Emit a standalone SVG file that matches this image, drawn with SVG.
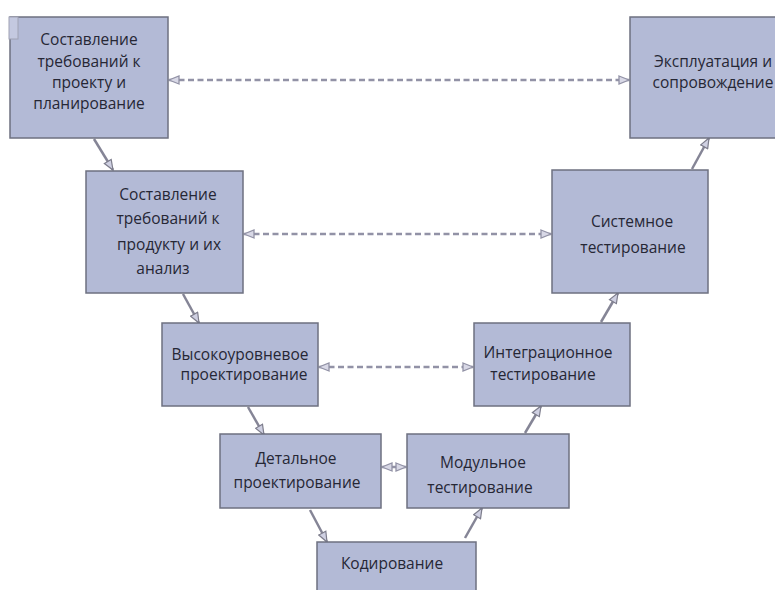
<svg xmlns="http://www.w3.org/2000/svg" width="775" height="590" viewBox="0 0 775 590">
<style>
.box{fill:#b3bad6;stroke:#6e7080;stroke-width:1.5}
.t{font-family:"Open Sans","Liberation Sans",sans-serif;font-size:15.5px;fill:#262735;text-anchor:middle}
.s{fill:none;stroke:#858596;stroke-width:2.5}
.d{fill:none;stroke:#9292a6;stroke-width:2.4;stroke-dasharray:6 3.5}
</style>
<defs>
<marker id="ah" viewBox="0 0 12 10" refX="11" refY="5" markerWidth="12" markerHeight="10" markerUnits="userSpaceOnUse" orient="auto-start-reverse">
<path d="M1,1 L11,5 L1,9 Z" fill="#cfd0e2" stroke="#7d7d8c" stroke-width="1.2"/>
</marker>
<marker id="dh" viewBox="0 0 12 10" refX="11" refY="5" markerWidth="12" markerHeight="10" markerUnits="userSpaceOnUse" orient="auto-start-reverse">
<path d="M1,1 L11,5 L1,9 Z" fill="#d8d8e6" stroke="#9292a6" stroke-width="1.3"/>
</marker>
</defs>
<rect width="775" height="590" fill="#ffffff"/>
<g id="connectors">
<line class="s" x1="94" y1="139" x2="113" y2="170" marker-end="url(#ah)"/>
<line class="s" x1="183" y1="294" x2="199" y2="323" marker-end="url(#ah)"/>
<line class="s" x1="248" y1="407" x2="264" y2="435" marker-end="url(#ah)"/>
<line class="s" x1="310" y1="510" x2="327" y2="542" marker-end="url(#ah)"/>
<line class="s" x1="465" y1="538" x2="482" y2="508" marker-end="url(#ah)"/>
<line class="s" x1="525" y1="433" x2="541" y2="406" marker-end="url(#ah)"/>
<line class="s" x1="601" y1="322" x2="618" y2="293" marker-end="url(#ah)"/>
<line class="s" x1="692" y1="169" x2="709" y2="138" marker-end="url(#ah)"/>
<line class="d" x1="169" y1="80" x2="629" y2="80" marker-start="url(#dh)" marker-end="url(#dh)"/>
<line class="d" x1="244" y1="234" x2="551" y2="234" marker-start="url(#dh)" marker-end="url(#dh)"/>
<line class="d" x1="319" y1="367" x2="473" y2="367" marker-start="url(#dh)" marker-end="url(#dh)"/>
<line class="d" x1="382" y1="467" x2="406" y2="467" marker-start="url(#dh)" marker-end="url(#dh)"/>
</g>
<g id="n1">
<rect class="box" x="10" y="17" width="158" height="121"/>
<rect x="9" y="17" width="9" height="22" fill="#c4c9e0" stroke="#a0a2b4" stroke-width="1"/>
<text class="t" x="89" y="45">Составление</text>
<text class="t" x="89" y="67">требований к</text>
<text class="t" x="89" y="88">проекту и</text>
<text class="t" x="89" y="109">планирование</text>
</g>
<g id="n2">
<rect class="box" x="86" y="171" width="157" height="122"/>
<text class="t" x="168" y="200">Составление</text>
<text class="t" x="168" y="224">требований к</text>
<text class="t" x="169" y="250">продукту и их</text>
<text class="t" x="163" y="274">анализ</text>
</g>
<g id="n3">
<rect class="box" x="162" y="323" width="156" height="83"/>
<text class="t" x="240" y="360">Высокоуровневое</text>
<text class="t" x="244" y="380">проектирование</text>
</g>
<g id="n4">
<rect class="box" x="220" y="434" width="161" height="74"/>
<text class="t" x="296" y="464">Детальное</text>
<text class="t" x="297" y="488">проектирование</text>
</g>
<g id="n5">
<rect class="box" x="317" y="542" width="159" height="60"/>
<text class="t" x="392" y="569">Кодирование</text>
</g>
<g id="n6">
<rect class="box" x="407" y="434" width="162" height="74"/>
<text class="t" x="483" y="468">Модульное</text>
<text class="t" x="480" y="493">тестирование</text>
</g>
<g id="n7">
<rect class="box" x="474" y="323" width="156" height="83"/>
<text class="t" x="548" y="358">Интеграционное</text>
<text class="t" x="543" y="380">тестирование</text>
</g>
<g id="n8">
<rect class="box" x="552" y="170" width="156" height="123"/>
<text class="t" x="632" y="227">Системное</text>
<text class="t" x="633" y="253">тестирование</text>
</g>
<g id="n9">
<rect class="box" x="630" y="17" width="166" height="121"/>
<text class="t" x="713" y="67">Эксплуатация и</text>
<text class="t" x="713" y="88">сопровождение</text>
</g>
</svg>
